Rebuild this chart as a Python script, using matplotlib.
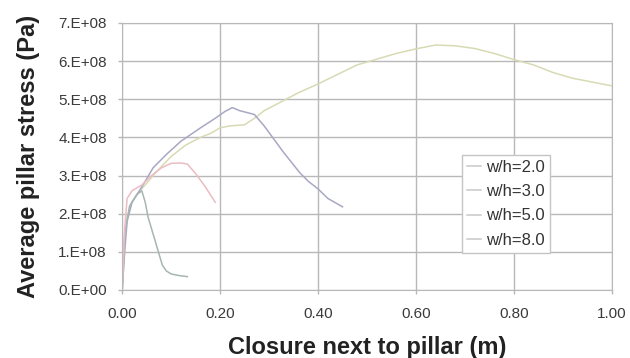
import numpy as np
import matplotlib.pyplot as plt
from matplotlib.ticker import FuncFormatter

plt.rcParams['font.family'] = ['Liberation Sans', 'DejaVu Sans']

# w/h = 2.0
x20 = [0, 0.005, 0.01, 0.02, 0.03, 0.05, 0.07, 0.10, 0.13, 0.16, 0.18, 0.20, 0.22, 0.25, 0.27,
       0.29, 0.32, 0.36, 0.40, 0.44, 0.48, 0.52, 0.56, 0.60, 0.64, 0.68, 0.72, 0.76, 0.80,
       0.84, 0.88, 0.92, 0.96, 1.00]
y20 = [0, 1.2e8, 1.9e8, 2.3e8, 2.5e8, 2.8e8, 3.1e8, 3.5e8, 3.8e8, 4.0e8, 4.1e8, 4.25e8, 4.3e8, 4.33e8, 4.5e8,
       4.7e8, 4.9e8, 5.17e8, 5.4e8, 5.65e8, 5.9e8, 6.05e8, 6.2e8, 6.32e8, 6.42e8, 6.4e8, 6.33e8, 6.2e8, 6.04e8,
       5.9e8, 5.7e8, 5.55e8, 5.45e8, 5.35e8]

# w/h = 3.0
x30 = [0, 0.005, 0.01, 0.02, 0.04, 0.063, 0.09, 0.12, 0.16, 0.19, 0.21, 0.225, 0.24, 0.27,
       0.29, 0.31, 0.33, 0.363, 0.38, 0.40, 0.42, 0.45]
y30 = [0, 1.0e8, 1.8e8, 2.3e8, 2.7e8, 3.2e8, 3.55e8, 3.9e8, 4.25e8, 4.5e8, 4.68e8, 4.78e8, 4.7e8, 4.6e8,
       4.3e8, 3.95e8, 3.6e8, 3.07e8, 2.85e8, 2.65e8, 2.4e8, 2.18e8]

# w/h = 5.0
x50 = [0, 0.005, 0.015, 0.03, 0.04, 0.047, 0.053, 0.06, 0.067, 0.075, 0.082, 0.09, 0.10, 0.115, 0.133]
y50 = [0, 1.5e8, 2.2e8, 2.5e8, 2.6e8, 2.3e8, 1.9e8, 1.6e8, 1.3e8, 0.95e8, 0.65e8, 0.5e8, 0.42e8, 0.38e8, 0.35e8]

# w/h = 8.0
x80 = [0, 0.005, 0.01, 0.02, 0.04, 0.06, 0.08, 0.10, 0.12, 0.133, 0.15, 0.17, 0.19]
y80 = [0, 1.6e8, 2.4e8, 2.6e8, 2.75e8, 3.0e8, 3.2e8, 3.32e8, 3.33e8, 3.3e8, 3.05e8, 2.7e8, 2.3e8]

xticks = [0.0, 0.2, 0.4, 0.6, 0.8, 1.0]
yticks = [0, 1e8, 2e8, 3e8, 4e8, 5e8, 6e8, 7e8]

fig = plt.figure(figsize=(6.3, 3.58), dpi=100)
ax = fig.add_axes([0.194, 0.19, 0.777, 0.746])

ax.plot(x20, y20, color='#d8dab4', lw=1.1, label='w/h=2.0')
ax.plot(x30, y30, color='#a8a8c4', lw=1.1, label='w/h=3.0')
ax.plot(x50, y50, color='#a6b6b2', lw=1.1, label='w/h=5.0')
ax.plot(x80, y80, color='#ebbcc4', lw=1.1, label='w/h=8.0')

ax.set_xlim(0, 1.0)
ax.set_ylim(0, 7e8)
ax.set_xticks(xticks)
ax.set_yticks(yticks)
ax.xaxis.set_major_formatter(FuncFormatter(lambda v, p: '%.2f' % v))
ax.yaxis.set_major_formatter(FuncFormatter(lambda v, p: '%d.E+%02d' % (round(v / 1e8), 8) if v else '0.E+00'))
ax.grid(True, color='#b8b8b8', lw=1)
ax.set_axisbelow(True)
for s in ax.spines.values():
    s.set_color('#b8b8b8')
ax.tick_params(colors='#b8b8b8', labelcolor='#3a3a3a', labelsize=11, length=3, width=1)
ax.tick_params(axis='x', pad=9)
ax.tick_params(axis='y', pad=8)

ax.set_xlabel('Closure next to pillar (m)', fontsize=17, fontweight='bold', color='#222222', labelpad=11)
ax.set_ylabel('Average pillar stress (Pa)', fontsize=17, fontweight='bold', color='#222222', labelpad=13)

leg = ax.legend(loc='upper left', bbox_to_anchor=(0.695, 0.505), fontsize=12, frameon=True,
                fancybox=False, handlelength=0.8, handletextpad=0.3, labelspacing=0.55,
                borderpad=0.3, borderaxespad=0, framealpha=1)
leg.get_frame().set_edgecolor('#c4c4c4')
leg.get_frame().set_linewidth(1)
for t in leg.get_texts():
    t.set_color('#333333')
for h in leg.get_lines():
    h.set_color('#c8c8c8')

fig.savefig('out.png', dpi=100)
